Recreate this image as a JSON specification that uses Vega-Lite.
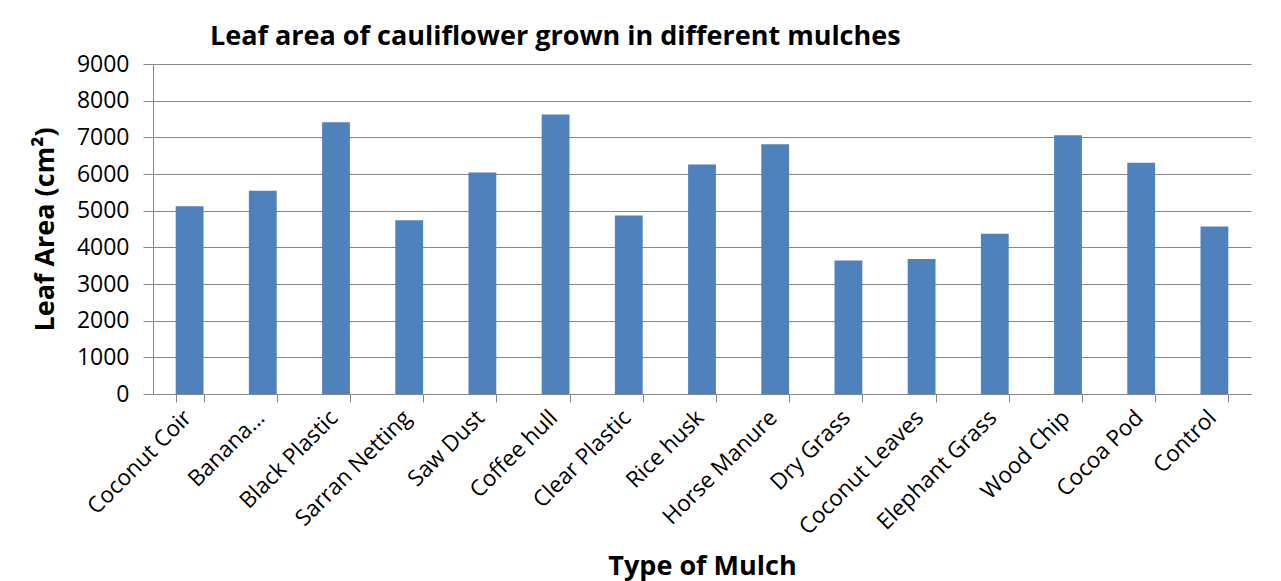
{
  "$schema": "https://vega.github.io/schema/vega-lite/v6.json",
  "autosize": {"type": "none"},
  "width": 1098,
  "height": 330,
  "padding": {"left": 153, "top": 64, "right": 30, "bottom": 187},
  "background": "white",
  "title": {
    "text": "Leaf area of cauliflower grown in different mulches",
    "anchor": "start",
    "frame": "group",
    "dx": 57,
    "offset": 2,
    "font": "Open Sans",
    "fontSize": 27,
    "fontWeight": "bold",
    "color": "#000000"
  },
  "data": {
    "values": [
      {"mulch": "Coconut Coir", "area": 5120},
      {"mulch": "Banana...", "area": 5540},
      {"mulch": "Black Plastic", "area": 7410},
      {"mulch": "Sarran Netting", "area": 4740},
      {"mulch": "Saw Dust", "area": 6040},
      {"mulch": "Coffee hull", "area": 7620},
      {"mulch": "Clear Plastic", "area": 4870},
      {"mulch": "Rice husk", "area": 6260},
      {"mulch": "Horse Manure", "area": 6810},
      {"mulch": "Dry Grass", "area": 3640},
      {"mulch": "Coconut Leaves", "area": 3680},
      {"mulch": "Elephant Grass", "area": 4370},
      {"mulch": "Wood Chip", "area": 7060},
      {"mulch": "Cocoa Pod", "area": 6310},
      {"mulch": "Control", "area": 4570}
    ]
  },
  "mark": {"type": "bar", "color": "#4F81BD"},
  "encoding": {
    "x": {
      "field": "mulch",
      "type": "nominal",
      "sort": null,
      "scale": {"paddingInner": 0.62, "paddingOuter": 0.31},
      "axis": {
        "title": "Type of Mulch",
        "titleFont": "Open Sans",
        "titleFontSize": 27,
        "titleFontWeight": "bold",
        "titleColor": "#000000",
        "titleBaseline": "alphabetic",
        "titleY": 180,
        "labelAngle": -45,
        "labelFont": "Open Sans",
        "labelFontSize": 22.5,
        "labelColor": "#000000",
        "labelPadding": 4,
        "labelOffset": -10,
        "tickBand": "extent",
        "tickSize": 8,
        "tickColor": "#868686",
        "domainColor": "#868686",
        "grid": false
      }
    },
    "y": {
      "field": "area",
      "type": "quantitative",
      "scale": {"domain": [0, 9000], "nice": false},
      "axis": {
        "title": "Leaf Area (cm²)",
        "titleFont": "Open Sans",
        "titleFontSize": 27,
        "titleFontWeight": "bold",
        "titleColor": "#000000",
        "titleAngle": -90,
        "titleAlign": "center",
        "titleBaseline": "middle",
        "titleX": -108,
        "titleY": 165,
        "values": [0, 1000, 2000, 3000, 4000, 5000, 6000, 7000, 8000, 9000],
        "format": "d",
        "labelFont": "Open Sans",
        "labelFontSize": 23,
        "labelColor": "#000000",
        "labelPadding": 14,
        "tickSize": 10,
        "tickColor": "#868686",
        "domainColor": "#868686",
        "grid": true,
        "gridColor": "#868686",
        "gridWidth": 1
      }
    }
  },
  "config": {
    "view": {"stroke": null},
    "axis": {"labelFlush": false, "labelOverlap": false}
  }
}
